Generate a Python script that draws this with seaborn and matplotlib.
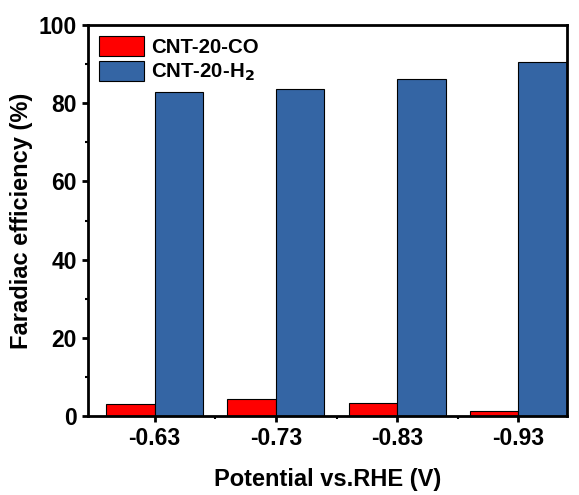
import matplotlib
matplotlib.use("Agg")
import matplotlib.pyplot as plt
import seaborn as sns
import pandas as pd
from matplotlib.ticker import MultipleLocator, FixedLocator

potentials = ["-0.63", "-0.73", "-0.83", "-0.93"]
co_values = [3.0, 4.3, 3.4, 1.3]
h2_values = [82.9, 83.8, 86.2, 90.7]
series_names = ["CNT-20-CO", "CNT-20-H$_2$"]

df = pd.DataFrame({
    "Potential": potentials * 2,
    "FE": co_values + h2_values,
    "Series": [series_names[0]] * 4 + [series_names[1]] * 4,
})

sns.set_style("ticks")
plt.rcParams['font.family'] = ['Liberation Sans', 'DejaVu Sans']
plt.rcParams['font.weight'] = 'bold'
plt.rcParams['mathtext.default'] = 'bf'
plt.rcParams['text.color'] = 'black'
plt.rcParams['axes.labelcolor'] = 'black'
plt.rcParams['xtick.color'] = 'black'
plt.rcParams['ytick.color'] = 'black'
plt.rcParams['axes.edgecolor'] = 'black'

fig = plt.figure(figsize=(5.79, 4.95), dpi=100)
ax = fig.add_axes([0.152, 0.160, 0.827, 0.789])

sns.barplot(data=df, x="Potential", y="FE", hue="Series", order=potentials,
            hue_order=series_names, palette=["#FF0000", "#3465A4"],
            width=0.8, edgecolor="black", linewidth=0.8, saturation=1, ax=ax)

ax.set_ylim(0, 100)
ax.set_xlim(-0.55, 3.4)
ax.yaxis.set_major_locator(MultipleLocator(20))
ax.yaxis.set_minor_locator(MultipleLocator(10))
ax.xaxis.set_minor_locator(FixedLocator([0.5, 1.5, 2.5]))
for s in ax.spines.values():
    s.set_linewidth(2)
ax.tick_params(which='major', direction='out', length=4.5, width=2, labelsize=16.5)
ax.tick_params(which='minor', direction='out', length=2.5, width=1.5)
for lab in ax.get_xticklabels() + ax.get_yticklabels():
    lab.set_fontweight('bold')
ax.set_xlabel("Potential vs.RHE (V)", fontsize=17, fontweight='bold', labelpad=13)
ax.set_ylabel("Faradiac efficiency (%)", fontsize=17, fontweight='bold', labelpad=4)

leg = ax.legend(loc='upper left', frameon=False, prop={'weight': 'bold', 'size': 14.7},
                handlelength=2.2, handleheight=1.1, borderaxespad=0.3, borderpad=0.25,
                labelspacing=0.2, handletextpad=0.35)

fig.savefig("out.png", dpi=100)
